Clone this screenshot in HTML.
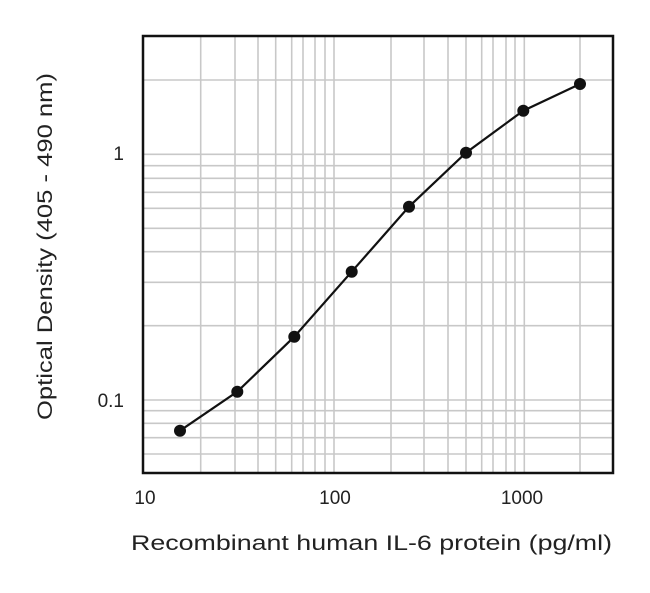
<!DOCTYPE html>
<html><head><style>body{margin:0;background:#fff}svg{display:block}</style></head><body>
<svg width="650" height="593" xmlns="http://www.w3.org/2000/svg" font-family="Liberation Sans, sans-serif">
<g stroke="#c8c8c8" stroke-width="1.6">
<line x1="200.7" y1="36" x2="200.7" y2="473"/><line x1="235" y1="36" x2="235" y2="473"/><line x1="258" y1="36" x2="258" y2="473"/><line x1="275.7" y1="36" x2="275.7" y2="473"/><line x1="291.7" y1="36" x2="291.7" y2="473"/><line x1="303" y1="36" x2="303" y2="473"/><line x1="315" y1="36" x2="315" y2="473"/><line x1="325" y1="36" x2="325" y2="473"/><line x1="334" y1="36" x2="334" y2="473"/>
<line x1="391" y1="36" x2="391" y2="473"/><line x1="424" y1="36" x2="424" y2="473"/><line x1="448" y1="36" x2="448" y2="473"/><line x1="466" y1="36" x2="466" y2="473"/><line x1="481.7" y1="36" x2="481.7" y2="473"/><line x1="493" y1="36" x2="493" y2="473"/><line x1="506" y1="36" x2="506" y2="473"/><line x1="515" y1="36" x2="515" y2="473"/><line x1="524.3" y1="36" x2="524.3" y2="473"/><line x1="580" y1="36" x2="580" y2="473"/>
<line x1="143" y1="80" x2="613" y2="80"/><line x1="143" y1="154.3" x2="613" y2="154.3"/><line x1="143" y1="165.7" x2="613" y2="165.7"/><line x1="143" y1="178.3" x2="613" y2="178.3"/><line x1="143" y1="192.3" x2="613" y2="192.3"/><line x1="143" y1="208.3" x2="613" y2="208.3"/><line x1="143" y1="228.3" x2="613" y2="228.3"/><line x1="143" y1="251.7" x2="613" y2="251.7"/><line x1="143" y1="282.3" x2="613" y2="282.3"/><line x1="143" y1="325.7" x2="613" y2="325.7"/>
<line x1="143" y1="400" x2="613" y2="400"/><line x1="143" y1="410.7" x2="613" y2="410.7"/><line x1="143" y1="423.3" x2="613" y2="423.3"/><line x1="143" y1="437.7" x2="613" y2="437.7"/><line x1="143" y1="454" x2="613" y2="454"/>
</g>
<rect x="143" y="36" width="470" height="437" fill="none" stroke="#111" stroke-width="2.5"/>
<polyline fill="none" stroke="#111" stroke-width="2.2" points="180,430.7 237.3,391.7 294.3,336.7 351.7,271.7 409,206.7 466,152.7 523.3,110.7 580,84"/>
<g fill="#111">
<circle cx="180" cy="430.7" r="6"/><circle cx="237.3" cy="391.7" r="6"/><circle cx="294.3" cy="336.7" r="6"/><circle cx="351.7" cy="271.7" r="6"/><circle cx="409" cy="206.7" r="6"/><circle cx="466" cy="152.7" r="6"/><circle cx="523.3" cy="110.7" r="6"/><circle cx="580" cy="84" r="6"/>
</g>
<g font-size="19" fill="#222">
<text x="124" y="160" text-anchor="end">1</text>
<text x="124" y="407" text-anchor="end">0.1</text>
<text x="145" y="504" text-anchor="middle">10</text>
<text x="335" y="504" text-anchor="middle">100</text>
<text x="522" y="504" text-anchor="middle">1000</text>
</g>
<text x="131" y="550" font-size="21" fill="#222" textLength="481" lengthAdjust="spacingAndGlyphs">Recombinant human IL-6 protein (pg/ml)</text>
<text transform="translate(52,420) rotate(-90)" font-size="21" fill="#222" textLength="347" lengthAdjust="spacingAndGlyphs">Optical Density (405 - 490 nm)</text>
</svg>
</body></html>
